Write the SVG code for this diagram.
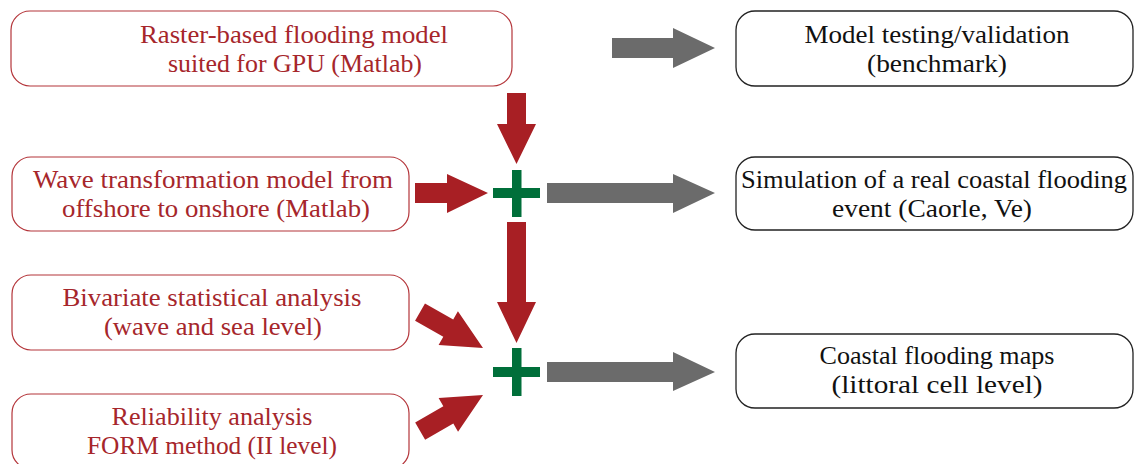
<svg xmlns="http://www.w3.org/2000/svg" width="1134" height="464" viewBox="0 0 1134 464">
  <defs>
    <style>
      .lbox { fill: #ffffff; stroke: #b4353a; stroke-width: 1.2; }
      .rbox { fill: #ffffff; stroke: #222222; stroke-width: 1.3; }
      .lt { font-family: "Liberation Serif", "DejaVu Serif", serif; font-size: 26px; fill: #a6262b; text-anchor: middle; }
      .rt { font-family: "Liberation Serif", "DejaVu Serif", serif; font-size: 26px; fill: #111111; text-anchor: middle; }
      .red { fill: #a81f24; }
      .grey { fill: #6b6b6b; }
      .green { fill: #006f3a; }
    </style>
    <path id="diag" d="M -72.5 -10 L -40 -10 L -40 -19.5 L 0 0 L -40 19.5 L -40 10 L -72.5 10 Z"/>
  </defs>
  <rect width="1134" height="464" fill="#ffffff"/>

  <g id="node-raster">
    <rect class="lbox" x="11" y="11" width="501" height="75" rx="19"/>
    <text class="lt" x="294" y="43" textLength="308" lengthAdjust="spacingAndGlyphs">Raster-based flooding model</text>
    <text class="lt" x="295" y="72" textLength="254" lengthAdjust="spacingAndGlyphs">suited for GPU (Matlab)</text>
  </g>
  <g id="node-wave">
    <rect class="lbox" x="12" y="157" width="397" height="74" rx="19"/>
    <text class="lt" x="213" y="188" textLength="360" lengthAdjust="spacingAndGlyphs">Wave transformation model from</text>
    <text class="lt" x="216" y="217" textLength="308" lengthAdjust="spacingAndGlyphs">offshore to onshore (Matlab)</text>
  </g>
  <g id="node-bivariate">
    <rect class="lbox" x="12" y="275" width="397" height="75" rx="19"/>
    <text class="lt" x="212" y="306" textLength="299" lengthAdjust="spacingAndGlyphs">Bivariate statistical analysis</text>
    <text class="lt" x="213" y="335" textLength="218" lengthAdjust="spacingAndGlyphs">(wave and sea level)</text>
  </g>
  <g id="node-reliability">
    <rect class="lbox" x="12" y="394" width="397" height="75" rx="19"/>
    <text class="lt" x="212" y="425" textLength="201" lengthAdjust="spacingAndGlyphs">Reliability analysis</text>
    <text class="lt" x="212" y="454" textLength="250" lengthAdjust="spacingAndGlyphs">FORM method (II level)</text>
  </g>

  <g id="node-testing">
    <rect class="rbox" x="736" y="11" width="397" height="75" rx="19"/>
    <text class="rt" x="937" y="43" textLength="265" lengthAdjust="spacingAndGlyphs">Model testing/validation</text>
    <text class="rt" x="937" y="72" textLength="140" lengthAdjust="spacingAndGlyphs">(benchmark)</text>
  </g>
  <g id="node-simulation">
    <rect class="rbox" x="736" y="157" width="397" height="73" rx="19"/>
    <text class="rt" x="934" y="188" textLength="386" lengthAdjust="spacingAndGlyphs">Simulation of a real coastal flooding</text>
    <text class="rt" x="932" y="217" textLength="200" lengthAdjust="spacingAndGlyphs">event (Caorle, Ve)</text>
  </g>
  <g id="node-maps">
    <rect class="rbox" x="736" y="334" width="397" height="74" rx="19"/>
    <text class="rt" x="937" y="364" textLength="235" lengthAdjust="spacingAndGlyphs">Coastal flooding maps</text>
    <text class="rt" x="937" y="393" textLength="211" lengthAdjust="spacingAndGlyphs">(littoral cell level)</text>
  </g>

  <g id="node-plus1" class="green">
    <rect x="512" y="170" width="9.5" height="47"/>
    <rect x="493" y="188" width="47" height="10"/>
  </g>
  <g id="node-plus2" class="green">
    <rect x="512" y="348" width="9.5" height="48"/>
    <rect x="493" y="367" width="47" height="10"/>
  </g>

  <g id="connectors">
    <path class="grey" d="M 612 38 L 673 38 L 673 28 L 715 48 L 673 68 L 673 58 L 612 58 Z"/>
    <path class="red" d="M 507 93 L 526 93 L 526 124 L 536 124 L 516.5 164 L 497 124 L 507 124 Z"/>
    <path class="red" d="M 415 183 L 447 183 L 447 174 L 488 193 L 447 213 L 447 203 L 415 203 Z"/>
    <path class="grey" d="M 547 183 L 673 183 L 673 174 L 715 193 L 673 213 L 673 203 L 547 203 Z"/>
    <path class="red" d="M 507 222 L 526 222 L 526 302 L 536 302 L 516.5 343 L 497 302 L 507 302 Z"/>
    <use class="red" href="#diag" transform="translate(483 348) rotate(29.7)"/>
    <use class="red" href="#diag" transform="translate(483 395) rotate(-29.9)"/>
    <path class="grey" d="M 547 362 L 673 362 L 673 352 L 715 372 L 673 391 L 673 382 L 547 382 Z"/>
  </g>
</svg>
